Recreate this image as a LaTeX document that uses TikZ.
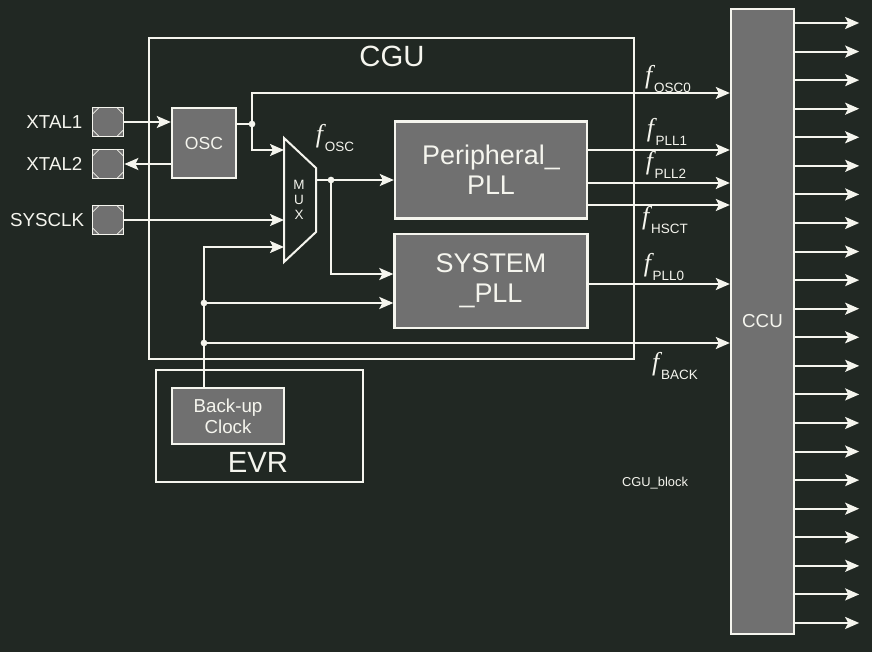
\documentclass[tikz,border=0pt]{standalone}
\usepackage{fontspec}
\setmainfont{Liberation Sans}
\newfontfamily\fserif{Liberation Serif}
\usetikzlibrary{positioning, arrows.meta}
\definecolor{bgdark}{RGB}{33,40,35}
\definecolor{boxgray}{RGB}{112,112,112}
\definecolor{wirewhite}{RGB}{245,245,238}
\newcommand{\fsig}[1]{{\fontsize{22}{22}\selectfont\fserif\itshape f}\kern1.5pt\raisebox{-1.5ex}{\fontsize{11.5}{12}\selectfont #1}}

\begin{document}
\begin{tikzpicture}[
    x=0.03cm, y=-0.03cm,
    wire/.style={
        draw=wirewhite,
        line width=1.7pt
    },
    arrow/.style={
        wire,
        -{Stealth[length=4.2mm, width=3.6mm, inset=0.9mm]}
    },
    block/.style={
        rectangle,
        draw=wirewhite,
        line width=2pt,
        fill=boxgray,
        text=wirewhite,
        align=center,
        inner sep=0pt
    },
    outline/.style={
        rectangle,
        draw=wirewhite,
        line width=2pt,
        inner sep=0pt
    },
    padbox/.style={
        rectangle,
        draw=wirewhite,
        line width=1.5pt,
        fill=boxgray,
        minimum width=0.93cm,
        minimum height=0.87cm,
        inner sep=0pt,
        path picture={
            \draw[wirewhite, line width=0.7pt]
                ([yshift=-2mm]path picture bounding box.north west) -- ([xshift=2mm]path picture bounding box.north west)
                ([xshift=-2mm]path picture bounding box.north east) -- ([yshift=-2mm]path picture bounding box.north east)
                ([yshift=2mm]path picture bounding box.south east) -- ([xshift=-2mm]path picture bounding box.south east)
                ([xshift=2mm]path picture bounding box.south west) -- ([yshift=2mm]path picture bounding box.south west);
        }
    },
    padlabel/.style={
        text=wirewhite,
        font=\fontsize{16}{18}\selectfont,
        inner sep=0pt
    },
    heading/.style={
        text=wirewhite,
        font=\fontsize{25}{28}\selectfont,
        inner sep=0pt
    },
    signal/.style={
        text=wirewhite,
        inner sep=0pt
    }
]

% Background
\fill[bgdark] (0,0) rectangle (872,652);
\useasboundingbox (0,0) rectangle (872,652);

% Frames
\node[outline, minimum width=14.55cm, minimum height=9.63cm] (cgu) at (391.5,198.5) {};
\node[heading] (cgutitle) at (392,56) {CGU};
\node[outline, minimum width=6.21cm, minimum height=3.36cm] (evr) at (259.5,426) {};
\node[heading] (evrtitle) at (258,462) {EVR};

% Pads
\node[padbox] (xtalA) at (108,122) {};
\node[padbox] (xtalB) at (108,164) {};
\node[padbox] (sysclk) at (108,220) {};
\node[padlabel, left=0.27cm of xtalA] (xtalAlbl) {XTAL1};
\node[padlabel, left=0.27cm of xtalB] (xtalBlbl) {XTAL2};
\node[padlabel, left=0.22cm of sysclk] (sysclklbl) {SYSCLK};

% Nodes
\node[block, minimum width=1.92cm, minimum height=2.1cm, font=\fontsize{15}{17}\selectfont] (osc) at (204,143) {OSC};
\node[block, minimum width=5.76cm, minimum height=2.91cm, font=\fontsize{23}{26}\selectfont] (perpll) at (491,170) {Peripheral\_\\PLL};
\node[block, minimum width=5.79cm, minimum height=2.82cm, font=\fontsize{23}{26}\selectfont] (syspll) at (491,281) {SYSTEM\\\_PLL};
\node[block, minimum width=3.36cm, minimum height=1.68cm, font=\fontsize{16}{18}\selectfont] (backup) at (228,416) {Back-up\\Clock};
\node[block, minimum width=1.89cm, minimum height=18.75cm, font=\fontsize{16}{18}\selectfont] (ccu) at (762.5,321.5) {CCU};

% MUX
\draw[wire, fill=bgdark] (284,138) coordinate (muxtl) -- (316,168) -- (316,232) -- (284,262) coordinate (muxbl) -- cycle;
\node[signal, align=center, font=\fontsize{11.5}{12.5}\selectfont] (mux) at (299,200) {M\\U\\X};
\coordinate (muxout) at (316,180);

% Junctions
\coordinate (oscdot) at (252,124);
\coordinate (muxdot) at (331,180);
\coordinate (bkdotA) at (204,303);
\coordinate (bkdotB) at (204,343);
\foreach \d in {oscdot, muxdot, bkdotA, bkdotB}
    \fill[wirewhite] (\d) circle (0.1cm);

% Pad connections
\draw[arrow] (xtalA) -- (osc.west |- xtalA);
\draw[arrow] (osc.west |- xtalB) -- (xtalB);
\draw[arrow] (sysclk) -- (muxtl |- sysclk);

% Oscillator and MUX
\draw[wire] (osc.east |- oscdot) -- (oscdot);
\draw[arrow] (oscdot) |- (ccu.west |- 0,93);
\draw[arrow] (oscdot) |- (muxtl |- 0,150);
\draw[wire] (muxout) -- (muxdot);
\draw[arrow] (muxdot) -- (perpll.west |- muxdot);
\draw[arrow] (muxdot) |- (syspll.west |- 0,274);

% Back-up clock
\draw[arrow] (backup.north -| bkdotA) |- (muxtl |- 0,247);
\draw[arrow] (bkdotA) -- (syspll.west |- bkdotA);
\draw[arrow] (bkdotB) -- (ccu.west |- bkdotB);

% PLL outputs
\foreach \y in {150,183,205}
    \draw[arrow] (perpll.east |- 0,\y) -- (ccu.west |- 0,\y);
\draw[arrow] (syspll.east |- 0,284) -- (ccu.west |- 0,284);

% CCU outputs
\foreach \i in {0,...,21} {
    \path (0,{23+28.57*\i}) coordinate (outy);
    \draw[arrow] (ccu.east |- outy) -- ++(64,0);
}

% Signal labels
\node[signal] (fosc) at (335,138) {\fsig{OSC}};
\node[signal] (fosczero) at (668,79) {\fsig{OSC0}};
\node[signal] (fpllone) at (667,132) {\fsig{PLL1}};
\node[signal] (fplltwo) at (666,165) {\fsig{PLL2}};
\node[signal] (fhsct) at (665,220) {\fsig{HSCT}};
\node[signal] (fpllzero) at (664,267) {\fsig{PLL0}};
\node[signal] (fback) at (675,366) {\fsig{BACK}};
\node[signal, font=\fontsize{11}{12}\selectfont] (blockname) at (655,483) {CGU\_block};

\end{tikzpicture}
\end{document}
